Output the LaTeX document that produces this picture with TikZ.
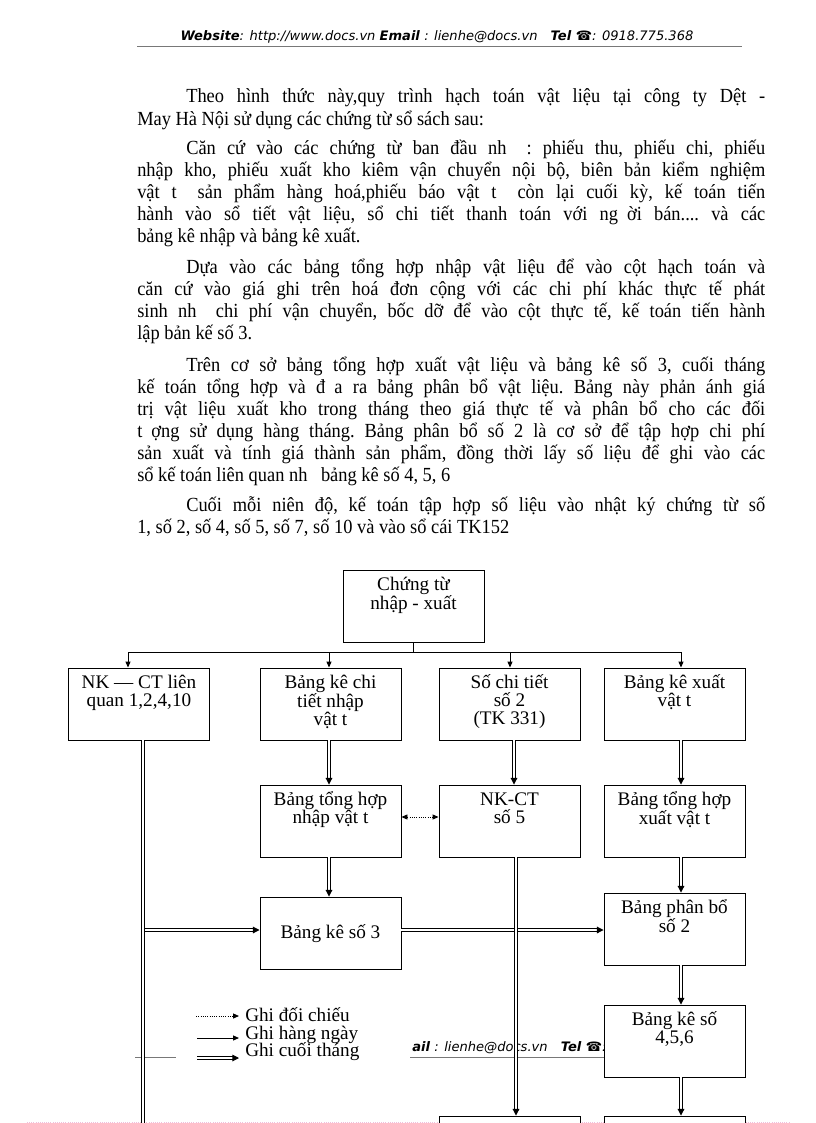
\documentclass[tikz,border=0pt]{standalone}
\usepackage{fontspec}
\setmainfont{Liberation Serif}
\newfontfamily\bodyfont{Liberation Serif}[FakeStretch=0.92]
\newfontfamily\hdrfont{DejaVu Sans}
\usetikzlibrary{arrows.meta}
\definecolor{pinkdot}{RGB}{240,190,220}
\definecolor{hdrline}{RGB}{120,120,120}
\newcommand\gp{\hspace{0.45em}}
\newcommand\jl[2]{\hbox to #1{\frenchspacing\spaceskip=.25em plus 1fil minus .06em\relax\xspaceskip=\spaceskip #2}}
\newcommand\bt[1]{\parbox[t]{120pt}{\centering\fontsize{14.4pt}{13.4pt}\selectfont #1}}
\begin{document}
\begin{tikzpicture}[x=0.75pt,y=-0.75pt,
  box/.style={draw, line width=0.7pt, fill=white, minimum width=105.75pt, minimum height=54pt, inner sep=0pt},
  body/.style={anchor=base west, inner sep=0pt, font=\bodyfont\fontsize{15pt}{16.5pt}\selectfont\frenchspacing},
  lbl/.style={anchor=base, inner sep=0pt},
  tip/.style={-{Triangle[length=4.5pt,width=3.8pt]}},
  arr/.style={line width=0.7pt, tip},
  dbl/.style={double, line width=0.75pt, double distance=1pt, -{Triangle[length=5pt,width=5pt]}},
  dblline/.style={double, line width=0.75pt, double distance=1pt},
  dotarr/.style={line width=0.7pt, densely dotted, {Triangle[length=4.5pt,width=3.8pt]}-{Triangle[length=4.5pt,width=3.8pt]}},
  hdr/.style={anchor=base, inner sep=0pt, font=\hdrfont\fontsize{9.8pt}{11pt}\selectfont},
  leg/.style={anchor=base west, inner sep=0pt, font=\fontsize{14.4pt}{13pt}\selectfont}
]
\path[use as bounding box] (0,0) rectangle (816,1123);
\clip (0,0) rectangle (816,1123);

% header
\node[hdr] (head) at (437,41) {\textbf{\textit{Website}}\textit{: http://www.docs.vn }\textbf{\textit{Email}}\textit{ : lienhe@docs.vn}\quad\textbf{\textit{Tel ☎}}\textit{: 0918.775.368}};
\draw[hdrline, line width=0.6pt] (137,46) -- (742,46);

% body text
\node[body] (p1a) at (186,103) {\jl{434.25pt}{Theo hình thức này,quy trình hạch toán vật liệu tại công ty Dệt -}};
\node[body] (p1b) at (137,126) {May Hà Nội sử dụng các chứng từ sổ sách sau:};
\node[body] (p2a) at (186,155) {\jl{434.25pt}{Căn cứ vào các chứng từ ban đầu nh\gp{} : phiếu thu, phiếu chi, phiếu}};
\node[body] (p2b) at (137,177) {\jl{471pt}{nhập kho, phiếu xuất kho kiêm vận chuyển nội bộ, biên bản kiểm nghiệm}};
\node[body] (p2c) at (137,199) {\jl{471pt}{vật t\gp{} sản phẩm hàng hoá,phiếu báo vật t\gp{} còn lại cuối kỳ, kế toán tiến}};
\node[body] (p2d) at (137,221) {\jl{471pt}{hành vào sổ tiết vật liệu, sổ chi tiết thanh toán với ng\gp ời bán.... và các}};
\node[body] (p2e) at (137,243) {bảng kê nhập và bảng kê xuất.};
\node[body] (p3a) at (186,273) {\jl{434.25pt}{Dựa vào các bảng tổng hợp nhập vật liệu để vào cột hạch toán và}};
\node[body] (p3b) at (137,295) {\jl{471pt}{căn cứ vào giá ghi trên hoá đơn cộng với các chi phí khác thực tế phát}};
\node[body] (p3c) at (137,317) {\jl{471pt}{sinh nh\gp{} chi phí vận chuyển, bốc dỡ để vào cột thực tế, kế toán tiến hành}};
\node[body] (p3d) at (137,339) {lập bản kế số 3.};
\node[body] (p4a) at (186,371) {\jl{434.25pt}{Trên cơ sở bảng tổng hợp xuất vật liệu và bảng kê số 3, cuối tháng}};
\node[body] (p4b) at (137,393) {\jl{471pt}{kế toán tổng hợp và đ\gp a ra bảng phân bổ vật liệu. Bảng này phản ánh giá}};
\node[body] (p4c) at (137,415) {\jl{471pt}{trị vật liệu xuất kho trong tháng theo giá thực tế và phân bổ cho các đối}};
\node[body] (p4d) at (137,437) {\jl{471pt}{t\gp ợng sử dụng hàng tháng. Bảng phân bổ số 2 là cơ sở để tập hợp chi phí}};
\node[body] (p4e) at (137,459) {\jl{471pt}{sản xuất và tính giá thành sản phẩm, đồng thời lấy số liệu để ghi vào các}};
\node[body] (p4f) at (137,481) {sổ kế toán liên quan nh\gp{} bảng kê số 4, 5, 6};
\node[body] (p5a) at (186,511) {\jl{434.25pt}{Cuối mỗi niên độ, kế toán tập hợp số liệu vào nhật ký chứng từ số}};
\node[body] (p5b) at (137,533) {1, số 2, số 4, số 5, số 7, số 10 và vào sổ cái TK152};

% page-break artefacts
\draw[pinkdot, densely dotted, line width=0.6pt] (27,1122) -- (790,1122);
\draw[hdrline, line width=0.6pt] (135,1057) -- (176,1057);
\draw[hdrline, line width=0.6pt] (410,1057) -- (610,1057);
\node[hdr, anchor=base west] (ovl) at (412,1051) {\textbf{\textit{ail}}\textit{ : lienhe@docs.vn}\quad\textbf{\textit{Tel ☎}}\textit{:}};

% boxes
\node[box] (ct) at (413.5,606) {};
\node[box] (nk) at (139,704) {};
\node[box] (bkn) at (330.5,704) {};
\node[box] (sct) at (509.5,704) {};
\node[box] (bkx) at (674.5,704) {};
\node[box] (thn) at (330.5,821) {};
\node[box] (nk5) at (509.5,821) {};
\node[box] (thx) at (674.5,821) {};
\node[box] (bk3) at (330.5,933) {};
\node[box] (pb2) at (674.5,929) {};
\node[box] (bk456) at (674.5,1041) {};
\node[box] (bt1) at (509.5,1152) {};
\node[box] (bt2) at (674.5,1152) {};

% box texts
\node[lbl] (ctT) at ([yshift=-15.75pt]ct.north) {\bt{Chứng từ\\nhập - xuất}};
\node[lbl] (nkT) at ([yshift=-15.75pt]nk.north) {\bt{NK — CT liên\\quan 1,2,4,10}};
\node[lbl] (bknT) at ([yshift=-15.75pt]bkn.north) {\bt{Bảng kê chi\\tiết nhập\\vật t}};
\node[lbl] (sctT) at ([yshift=-15.75pt]sct.north) {\bt{Số chi tiết\\số 2\\(TK 331)}};
\node[lbl] (bkxT) at ([yshift=-15.75pt]bkx.north) {\bt{Bảng kê xuất\\vật t}};
\node[lbl] (thnT) at ([yshift=-15.75pt]thn.north) {\bt{Bảng tổng hợp\\nhập vật t}};
\node[lbl] (nk5T) at ([yshift=-15.75pt]nk5.north) {\bt{NK-CT\\số 5}};
\node[lbl] (thxT) at ([yshift=-15.75pt]thx.north) {\bt{Bảng tổng hợp\\xuất vật t}};
\node[lbl] (bk3T) at ([yshift=-3.75pt]bk3.center) {\bt{Bảng kê số 3}};
\node[lbl] (pb2T) at ([yshift=-15.75pt]pb2.north) {\bt{Bảng phân bổ\\số 2}};
\node[lbl] (bk456T) at ([yshift=-15.75pt]bk456.north) {\bt{Bảng kê số\\4,5,6}};

% connector guides
\coordinate (hl) at (0,652);
\coordinate (cA) at (128,0);
\coordinate (cB) at (329,0);
\coordinate (cC) at (510,0);
\coordinate (cC2) at (514,0);
\coordinate (cC3) at (516,0);
\coordinate (cD) at (681,0);
\coordinate (cL) at (143,0);
\coordinate (cL2) at (145,0);
\coordinate (botL) at (143,1135);
\coordinate (r3) at (0,930);
\coordinate (rd) at (0,817);

% top distribution
\draw[line width=0.7pt] (ct.south) -- (ct.south |- hl);
\draw[line width=0.7pt] (hl -| cA) -- (hl -| cD);
\draw[arr] (hl -| cA) -- (nk.north -| cA);
\draw[arr] (hl -| cB) -- (bkn.north -| cB);
\draw[arr] (hl -| cC) -- (sct.north -| cC);
\draw[arr] (hl -| cD) -- (bkx.north -| cD);

% monthly flows
\draw[dbl] (bkn.south -| cB) -- (thn.north -| cB);
\draw[dbl] (sct.south -| cC2) -- (nk5.north -| cC2);
\draw[dbl] (bkx.south -| cD) -- (thx.north -| cD);
\draw[dbl] (thn.south -| cB) -- (bk3.north -| cB);
\draw[dbl] (thx.south -| cD) -- (pb2.north -| cD);
\draw[dbl] (pb2.south -| cD) -- (bk456.north -| cD);
\draw[dbl] (bk456.south -| cD) -- (bt2.north -| cD);
\draw[dbl] (r3 -| cL2) -- (bk3.west |- r3);
\draw[dbl] (bk3.east |- r3) -- (pb2.west |- r3);
\draw[dblline] (nk.south -| cL) -- (botL);
\draw[dbl] (nk5.south -| cC3) -- (bt1.north -| cC3);
\draw[dotarr] (thn.east |- rd) -- (nk5.west |- rd);

% legend
\coordinate (lg1a) at (196,1016);
\coordinate (lg1b) at (239,1016);
\coordinate (lg2a) at (197,1038);
\coordinate (lg2b) at (239,1038);
\coordinate (lg3a) at (197,1058);
\coordinate (lg3b) at (239,1058);
\draw[line width=0.7pt, densely dotted, tip] (lg1a) -- (lg1b);
\draw[arr] (lg2a) -- (lg2b);
\draw[dbl] (lg3a) -- (lg3b);
\node[leg] (lgt1) at (245,1021) {Ghi đối chiếu};
\node[leg] (lgt2) at (245,1039) {Ghi hàng ngày};
\node[leg] (lgt3) at (245,1056) {Ghi cuối tháng};
\end{tikzpicture}
\end{document}
